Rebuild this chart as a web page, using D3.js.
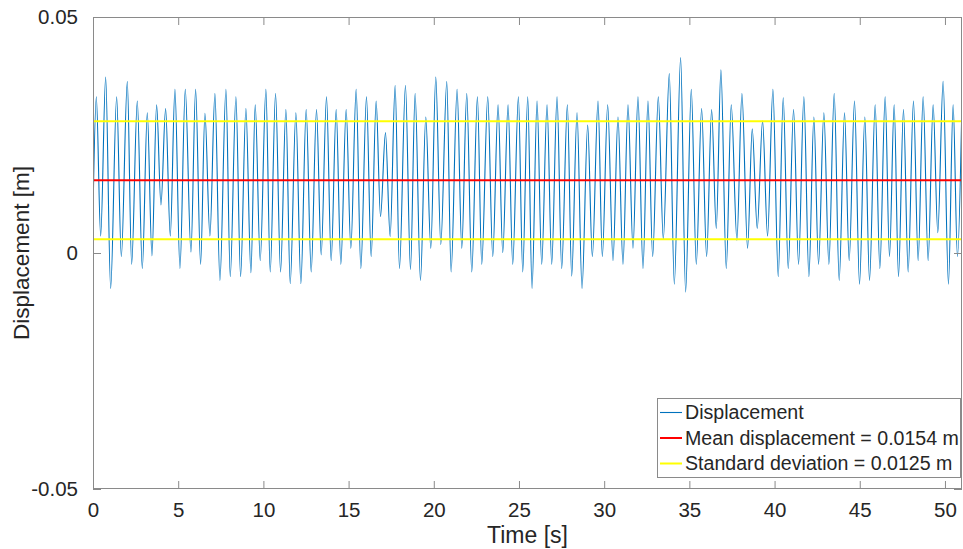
<!DOCTYPE html>
<html>
<head>
<meta charset="utf-8">
<script src="https://cdn.jsdelivr.net/npm/d3@7"></script>
<style>
  html, body { margin: 0; padding: 0; background: #fff; }
  svg { display: block; font-family: "Liberation Sans", Arial, Helvetica, sans-serif; }
</style>
</head>
<body>
<svg id="chart" width="963" height="549"></svg>
<script>
// ---- Data (peaks/troughs) ----
const timeS = [0, 0.195, 0.450, 0.743, 1.036, 1.388, 1.662, 2.014, 2.268, 2.600, 2.893, 3.187, 3.460, 3.734, 3.988, 4.262, 4.536,
4.809, 5.103, 5.416, 5.748, 6.022, 6.315, 6.569, 6.862, 7.155, 7.449, 7.801, 8.055, 8.387, 8.661, 8.974, 9.267,
9.521, 9.814, 10.147, 10.401, 10.714, 11.007, 11.320, 11.574, 11.906, 12.199, 12.512, 12.805, 13.118, 13.392, 13.705, 13.978,
14.272, 14.545, 14.858, 15.132, 15.445, 15.718, 16.051, 16.325, 16.618, 16.872, 17.165, 17.439, 17.732, 17.986, 18.338, 18.632,
18.905, 19.218, 19.531, 19.824, 20.117, 20.411, 20.762, 21.016, 21.368, 21.642, 21.935, 22.229, 22.561, 22.815, 23.167,
23.460, 23.773, 24.047, 24.360, 24.633, 24.966, 25.220, 25.513, 25.767, 26.060, 26.334, 26.647, 26.921, 27.234, 27.507, 27.840,
28.094, 28.407, 28.700, 29.032, 29.306, 29.638, 29.892, 30.205, 30.518, 30.811, 31.104, 31.398, 31.691, 31.984, 32.278, 32.571,
32.845, 33.177, 33.470, 33.822, 34.116, 34.487, 34.780, 35.113, 35.406, 35.718, 36.012, 36.305, 36.579, 36.852, 37.165, 37.458,
37.791, 38.084, 38.416, 38.690, 38.983, 39.296, 39.589, 39.902, 40.215, 40.508, 40.802, 41.114, 41.408, 41.720, 42.014,
42.307, 42.581, 42.893, 43.187, 43.500, 43.793, 44.106, 44.379, 44.692, 44.985, 45.298, 45.572, 45.904, 46.178, 46.491,
46.745, 47.019, 47.273, 47.566, 47.840, 48.152, 48.426, 48.719, 49.013, 49.306, 49.579, 49.892, 50.205, 50.479, 50.733, 51.0];

const displacementM = [0.0085, 0.0331, 0.0036, 0.0373, -0.0075, 0.0331, -0.0008, 0.0363, -0.0024, 0.0322, -0.0033, 0.0297, -0.0006, 0.0314, 0.0102, 0.0306, 0.0036,
0.0347, -0.0033, 0.0347, 0.0002, 0.0347, -0.0024, 0.0296, 0.0036, 0.0338, -0.0058, 0.0347, -0.0050, 0.0331, -0.0050, 0.0306, -0.0042,
0.0314, -0.0016, 0.0347, -0.0040, 0.0338, -0.0040, 0.0304, -0.0065, 0.0297, -0.0065, 0.0304, -0.0040, 0.0304, -0.0004, 0.0331, -0.0016,
0.0304, -0.0024, 0.0304, 0.0010, 0.0347, -0.0033, 0.0331, -0.0008, 0.0322, 0.0077, 0.0255, 0.0035, 0.0355, -0.0033, 0.0355, -0.0035,
0.0338, -0.0058, 0.0288, 0.0010, 0.0373, 0.0018, 0.0363, -0.0040, 0.0347, 0.0010, 0.0338, -0.0040, 0.0331, -0.0024, 0.0331,
-0.0008, 0.0314, 0.0001, 0.0314, -0.0024, 0.0331, -0.0040, 0.0331, -0.0075, 0.0322, -0.0024, 0.0314, -0.0024, 0.0331, -0.0033, 0.0314,
-0.0049, 0.0297, -0.0075, 0.0271, -0.0008, 0.0322, -0.0008, 0.0314, -0.0016, 0.0288, -0.0024, 0.0314, 0.0010, 0.0331, -0.0033, 0.0322,
-0.0008, 0.0331, 0.0029, 0.0380, -0.0066, 0.0414, -0.0083, 0.0347, -0.0024, 0.0306, -0.0008, 0.0304, 0.0052, 0.0388, -0.0033, 0.0314,
0.0027, 0.0338, 0.0010, 0.0263, 0.0052, 0.0280, 0.0036, 0.0347, -0.0050, 0.0329, -0.0033, 0.0304, -0.0024, 0.0331, -0.0050,
0.0288, -0.0024, 0.0297, -0.0024, 0.0338, -0.0058, 0.0297, -0.0016, 0.0322, -0.0066, 0.0288, -0.0058, 0.0314, -0.0033, 0.0331,
-0.0008, 0.0314, -0.0050, 0.0304, -0.0040, 0.0322, -0.0016, 0.0331, -0.0016, 0.0314, 0.0043, 0.0364, -0.0066, 0.0314, -0.0008, 0.0327];

const meanDisp = 0.0154;
const stdDev = 0.0125;

const xTicks = [0, 5, 10, 15, 20, 25, 30, 35, 40, 45, 50];
const yTicks = [-0.05, 0, 0.05];
const yTickLabels = ["-0.05", "0", "0.05"];
const xDomain = [0, 51];
const yDomain = [-0.05, 0.05];

const legendLabels = ["Displacement", "Mean displacement = 0.0154 m", "Standard deviation = 0.0125 m"];
const colors = { disp: "#0072BD", mean: "#FF0000", std: "#FFFF00" };

// ---- Layout ----
const svg = d3.select("#chart");
const L = 93, R = 962, T = 17, B = 489;
const x = d3.scaleLinear().domain(xDomain).range([L, R]);
const y = d3.scaleLinear().domain(yDomain).range([B, T]);
const axisColor = "#8a8a8a";
const textColor = "#262626";

const clipId = "plotclip";
svg.append("clipPath").attr("id", clipId).append("rect")
  .attr("x", L).attr("y", T).attr("width", R - L).attr("height", B - T);

const plot = svg.append("g").attr("clip-path", `url(#${clipId})`);

const series = timeS.map((t, i) => ({ t, v: displacementM[i] }));
const line = d3.line().x(d => x(d.t)).y(d => y(d.v)).curve(d3.curveMonotoneX);

plot.append("path").datum(series)
  .attr("d", line).attr("fill", "none")
  .attr("stroke", colors.disp).attr("stroke-width", 1.1);

const hline = d3.line().x(d => x(d[0])).y(d => y(d[1]));
plot.append("path").datum([[xDomain[0], meanDisp], [xDomain[1], meanDisp]])
  .attr("d", hline).attr("stroke", colors.mean).attr("stroke-width", 2).attr("fill", "none");
[meanDisp + stdDev, meanDisp - stdDev].forEach(v => {
  plot.append("path").datum([[xDomain[0], v], [xDomain[1], v]])
    .attr("d", hline).attr("stroke", colors.std).attr("stroke-width", 2).attr("fill", "none");
});

// ---- Axes ----
const tickLen = 8;
const xAxis = d3.axisBottom(x).tickValues(xTicks).tickSizeInner(-tickLen).tickSizeOuter(0).tickPadding(tickLen + 5).tickFormat(d3.format("d"));
const gx = svg.append("g").attr("transform", `translate(0,${B})`).call(xAxis);
const yAxis = d3.axisLeft(y).tickValues(yTicks).tickSizeInner(-tickLen).tickSizeOuter(0).tickPadding(tickLen + 7)
  .tickFormat((d, i) => yTickLabels[i]);
const gy = svg.append("g").attr("transform", `translate(${L},0)`).call(yAxis);

// top & right ticks (box on, MATLAB style)
const gxt = svg.append("g").attr("transform", `translate(0,${T})`)
  .call(d3.axisTop(x).tickValues(xTicks).tickSizeInner(-tickLen).tickSizeOuter(0).tickFormat(""));
const gyr = svg.append("g").attr("transform", `translate(${R},0)`)
  .call(d3.axisRight(y).tickValues(yTicks).tickSizeInner(-tickLen).tickSizeOuter(0).tickFormat(""));

[gx, gy, gxt, gyr].forEach(g => {
  g.select(".domain").remove();
  g.selectAll("line").attr("stroke", axisColor).attr("stroke-width", 1);
  g.selectAll("text").attr("fill", textColor).style("font-size", "20.5px")
    .style("font-family", "'Liberation Sans', Arial, sans-serif");
});

svg.append("rect").attr("x", L + 0.5).attr("y", T + 0.5)
  .attr("width", R - L - 1).attr("height", B - T - 1)
  .attr("fill", "none").attr("stroke", axisColor).attr("stroke-width", 1);

// ---- Axis labels ----
svg.append("text").attr("x", (L + R) / 2).attr("y", 543)
  .attr("text-anchor", "middle").attr("fill", textColor)
  .style("font-size", "23px").text("Time [s]");
svg.append("text")
  .attr("transform", `translate(29,${(T + B) / 2}) rotate(-90)`)
  .attr("text-anchor", "middle").attr("fill", textColor)
  .style("font-size", "22.5px").text("Displacement [m]");

// ---- Legend ----
const lg = svg.append("g");
const lgX = 657, lgY = 398, lgW = 303, lgH = 79;
lg.append("rect").attr("x", lgX + 0.5).attr("y", lgY + 0.5).attr("width", lgW).attr("height", lgH)
  .attr("fill", "#fff").attr("stroke", axisColor).attr("stroke-width", 1);
const lgColors = [colors.disp, colors.mean, colors.std];
const lgWidths = [1.1, 2, 2];
legendLabels.forEach((lab, i) => {
  const cy = lgY + 14.5 + i * 25.5;
  lg.append("line").attr("x1", lgX + 3).attr("x2", lgX + 25).attr("y1", cy).attr("y2", cy)
    .attr("stroke", lgColors[i]).attr("stroke-width", lgWidths[i]);
  lg.append("text").attr("x", lgX + 28).attr("y", cy).attr("dy", "0.35em")
    .attr("fill", textColor).style("font-size", "19.6px").text(lab);
});
</script>
</body>
</html>
